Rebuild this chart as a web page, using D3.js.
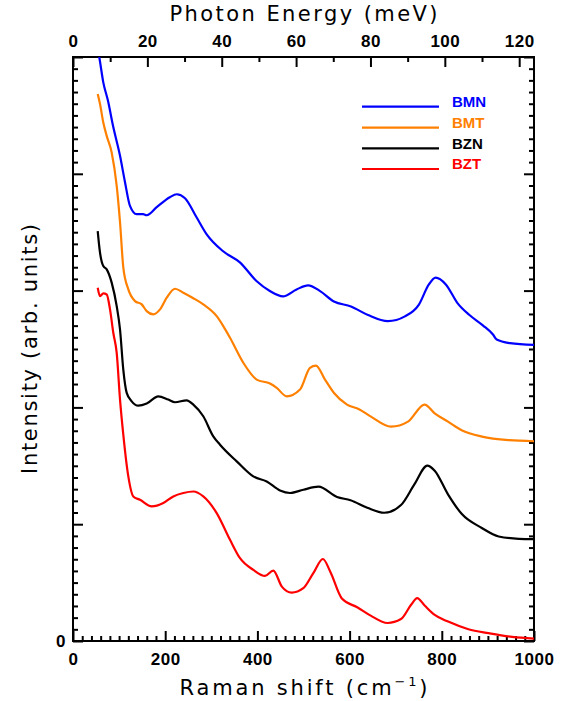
<!DOCTYPE html>
<html>
<head>
<meta charset="utf-8">
<script src="https://cdn.jsdelivr.net/npm/d3@7"></script>
<style>
  html, body { margin: 0; padding: 0; background: #fff; }
  svg { display: block; }
</style>
</head>
<body>
<div id="chart"></div>
<script>
// ---------- data (Raman shift in cm^-1, intensity in arb. units) ----------
const seriesNames = ["BMN", "BMT", "BZN", "BZT"];
const seriesColors = ["#0000ff", "#ff8000", "#000000", "#ff0000"];

const bmnShift = [50, 57, 65.7, 75.9, 86.8, 102, 112.8, 123.6, 138, 152, 160, 181.6, 210, 225, 243, 268, 290, 325, 362, 398, 427, 455.5, 485, 510, 536, 566, 603, 640, 683, 720, 750, 772, 786.6, 808.7, 834, 860, 889, 911, 919, 948, 1000];
const bmnIntensity = [5.15, 5.0, 4.783, 4.625, 4.411, 4.154, 3.928, 3.725, 3.654, 3.654, 3.645, 3.714, 3.799, 3.825, 3.791, 3.628, 3.482, 3.339, 3.242, 3.082, 2.996, 2.950, 3.010, 3.045, 2.996, 2.907, 2.864, 2.791, 2.738, 2.779, 2.878, 3.053, 3.111, 3.053, 2.893, 2.791, 2.703, 2.624, 2.581, 2.550, 2.535];

const bmtShift = [53.6, 58.6, 65.7, 73.1, 83.9, 94.8, 102, 109.1, 120, 134.5, 149, 159.9, 174.2, 188.7, 203.3, 221.3, 239.3, 261, 282.6, 311.7, 326, 340.6, 369.4, 398.5, 427.3, 441.9, 463.6, 492.4, 514.1, 527.1, 546.6, 566.2, 594.4, 620.4, 646.4, 689.8, 726.7, 762.7, 784.6, 813.4, 843, 887.2, 945.8, 1000];
const bmtIntensity = [4.683, 4.597, 4.440, 4.325, 4.183, 3.896, 3.585, 3.199, 3.010, 2.910, 2.882, 2.824, 2.796, 2.839, 2.939, 3.016, 2.982, 2.935, 2.882, 2.781, 2.696, 2.596, 2.382, 2.238, 2.204, 2.167, 2.095, 2.153, 2.339, 2.358, 2.238, 2.123, 2.024, 1.985, 1.921, 1.835, 1.878, 2.024, 1.949, 1.878, 1.805, 1.750, 1.719, 1.710];

const bznShift = [53.6, 58.6, 65.7, 73.1, 83.9, 94.8, 102, 109.1, 116.5, 127.3, 141.6, 159.9, 185, 206.7, 221.3, 246.6, 261, 282.6, 304.3, 318.9, 355.1, 391.1, 420.2, 449, 470.7, 499.6, 532.5, 572.7, 602, 638.4, 675, 711.5, 740.8, 768.5, 784.6, 813.4, 843, 886.8, 923.4, 967.2, 1000];
const bznIntensity = [3.510, 3.325, 3.210, 3.182, 3.068, 2.867, 2.667, 2.324, 2.124, 2.052, 2.015, 2.033, 2.095, 2.067, 2.044, 2.061, 2.024, 1.924, 1.752, 1.681, 1.538, 1.409, 1.366, 1.289, 1.267, 1.295, 1.321, 1.233, 1.205, 1.141, 1.098, 1.164, 1.343, 1.502, 1.458, 1.256, 1.089, 0.968, 0.895, 0.875, 0.872];

const bztShift = [53.6, 58.6, 65.7, 73.1, 80.3, 87.4, 94.8, 102, 109.1, 120, 130.8, 145.3, 170.7, 195.9, 217.6, 239.3, 261, 282.6, 311.7, 340.6, 362.3, 391.1, 416.5, 434.5, 453, 474.4, 499.6, 521.3, 542.1, 558.1, 583.7, 616.5, 645.8, 682.2, 711.5, 733.4, 746.6, 762.7, 784.6, 813.7, 857.7, 901.5, 952.5, 1000];
const bztIntensity = [3.025, 2.953, 2.976, 2.967, 2.839, 2.639, 2.467, 2.067, 1.767, 1.409, 1.238, 1.209, 1.152, 1.181, 1.238, 1.267, 1.280, 1.238, 1.095, 0.866, 0.709, 0.609, 0.557, 0.603, 0.466, 0.414, 0.452, 0.581, 0.702, 0.593, 0.361, 0.289, 0.217, 0.154, 0.188, 0.310, 0.367, 0.304, 0.223, 0.166, 0.101, 0.067, 0.035, 0.021];

// axes
const xDomain = [0, 1000];
const yDomain = [0, 5];
const xMajorTicks = [0, 200, 400, 600, 800, 1000];
const xMinorStep = 20;
const topMajorTicks = [0, 20, 40, 60, 80, 100, 120];
const topMinorTicks = [10, 30, 50, 70, 90, 110];
const yMajorTicks = [0, 1, 2, 3, 4, 5];
const yTickLabels = ["0", "", "", "", "", ""];
const yMinorStep = 0.1;
const meVPerWavenumber = 0.123984;

// ---------- layout ----------
const W = 575, H = 701;
const L = 73, R = 534, T = 57, B = 641;

const svg = d3.select("#chart").append("svg")
  .attr("width", W).attr("height", H)
  .style("font-family", "'Liberation Sans', Arial, sans-serif");

const x = d3.scaleLinear().domain(xDomain).range([L, R]);
const xTop = d3.scaleLinear().domain([xDomain[0] * meVPerWavenumber, xDomain[1] * meVPerWavenumber]).range([L, R]);
const y = d3.scaleLinear().domain(yDomain).range([B, T]);

const xMinor = d3.range(xDomain[0], xDomain[1] + 0.001, xMinorStep).filter(v => !xMajorTicks.includes(v));
const yMinor = d3.range(yDomain[0], yDomain[1] + 0.001, yMinorStep).map(v => +v.toFixed(2)).filter(v => !yMajorTicks.includes(v));

const tickFont = g => g.selectAll("text")
  .style("font-size", "17px").style("font-weight", "bold")
  .style("letter-spacing", "0.5px").attr("fill", "#000");
const tickStyle = g => {
  g.select(".domain").remove();
  g.selectAll("line").attr("stroke", "#000").attr("stroke-width", 2);
};

// bottom axis
svg.append("g").attr("transform", `translate(0,${B})`)
  .call(d3.axisBottom(x).tickValues(xMinor).tickSize(-5).tickFormat(""))
  .call(tickStyle);
svg.append("g").attr("transform", `translate(0,${B})`)
  .call(d3.axisBottom(x).tickValues(xMajorTicks).tickSize(-10).tickPadding(12).tickFormat(d3.format("d")))
  .call(tickStyle).call(tickFont);

// top axis
svg.append("g").attr("transform", `translate(0,${T})`)
  .call(d3.axisTop(xTop).tickValues(topMinorTicks).tickSize(-5).tickFormat(""))
  .call(tickStyle);
svg.append("g").attr("transform", `translate(0,${T})`)
  .call(d3.axisTop(xTop).tickValues(topMajorTicks).tickSize(-10).tickPadding(10).tickFormat(d3.format("d")))
  .call(tickStyle).call(tickFont);

// left axis
svg.append("g").attr("transform", `translate(${L},0)`)
  .call(d3.axisLeft(y).tickValues(yMinor).tickSize(-5).tickFormat(""))
  .call(tickStyle);
svg.append("g").attr("transform", `translate(${L},0)`)
  .call(d3.axisLeft(y).tickValues(yMajorTicks).tickSize(-10).tickPadding(7).tickFormat((d, i) => yTickLabels[i]))
  .call(tickStyle).call(tickFont);

// right axis
svg.append("g").attr("transform", `translate(${R},0)`)
  .call(d3.axisRight(y).tickValues(yMinor).tickSize(-5).tickFormat(""))
  .call(tickStyle);
svg.append("g").attr("transform", `translate(${R},0)`)
  .call(d3.axisRight(y).tickValues(yMajorTicks).tickSize(-10).tickFormat(""))
  .call(tickStyle);

// frame
svg.append("rect").attr("x", L).attr("y", T).attr("width", R - L).attr("height", B - T)
  .attr("fill", "none").attr("stroke", "#000").attr("stroke-width", 2);

// clip
svg.append("defs").append("clipPath").attr("id", "plotclip")
  .append("rect").attr("x", L).attr("y", T).attr("width", R - L).attr("height", B - T);

const seriesData = [
  [bmnShift, bmnIntensity],
  [bmtShift, bmtIntensity],
  [bznShift, bznIntensity],
  [bztShift, bztIntensity]
];

const line = d3.line().x(d => x(d[0])).y(d => y(d[1])).curve(d3.curveMonotoneX);

const plot = svg.append("g").attr("clip-path", "url(#plotclip)");
seriesData.forEach(([xs, ys], i) => {
  plot.append("path")
    .datum(xs.map((v, j) => [v, ys[j]]))
    .attr("d", line)
    .attr("fill", "none")
    .attr("stroke", seriesColors[i])
    .attr("stroke-width", 2.2)
    .attr("stroke-linejoin", "round");
});

// legend
const legY = [106.7, 127.7, 148.3, 169];
const leg = svg.append("g");
seriesNames.forEach((name, i) => {
  leg.append("line").attr("x1", 362).attr("x2", 439).attr("y1", legY[i]).attr("y2", legY[i])
    .attr("stroke", seriesColors[i]).attr("stroke-width", 2.2);
  leg.append("text").attr("x", 452).attr("y", legY[i] - 5).attr("dy", "0.35em")
    .attr("fill", seriesColors[i]).style("font-size", "15px").style("font-weight", "bold")
    .text(name);
});

// titles
const titleFont = "'DejaVu Sans', 'Liberation Sans', sans-serif";
svg.append("text").attr("x", (L + R) / 2).attr("y", 21)
  .attr("text-anchor", "middle").style("font-size", "21px").style("font-family", titleFont)
  .attr("textLength", 268).attr("lengthAdjust", "spacing")
  .text("Photon Energy (meV)");

const bt = svg.append("text").attr("x", (L + R) / 2).attr("y", 695)
  .attr("text-anchor", "middle").style("font-size", "21px").style("font-family", titleFont)
  .attr("textLength", 248).attr("lengthAdjust", "spacing");
bt.append("tspan").text("Raman shift (cm");
bt.append("tspan").attr("dy", -9).style("font-size", "13px").text("\u22121");
bt.append("tspan").attr("dy", 9).text(")");

svg.append("text").attr("transform", `translate(37,${(T + B) / 2}) rotate(-90)`)
  .attr("text-anchor", "middle").style("font-size", "21px").style("font-family", titleFont)
  .attr("textLength", 250).attr("lengthAdjust", "spacing")
  .text("Intensity (arb. units)");
</script>
</body>
</html>
